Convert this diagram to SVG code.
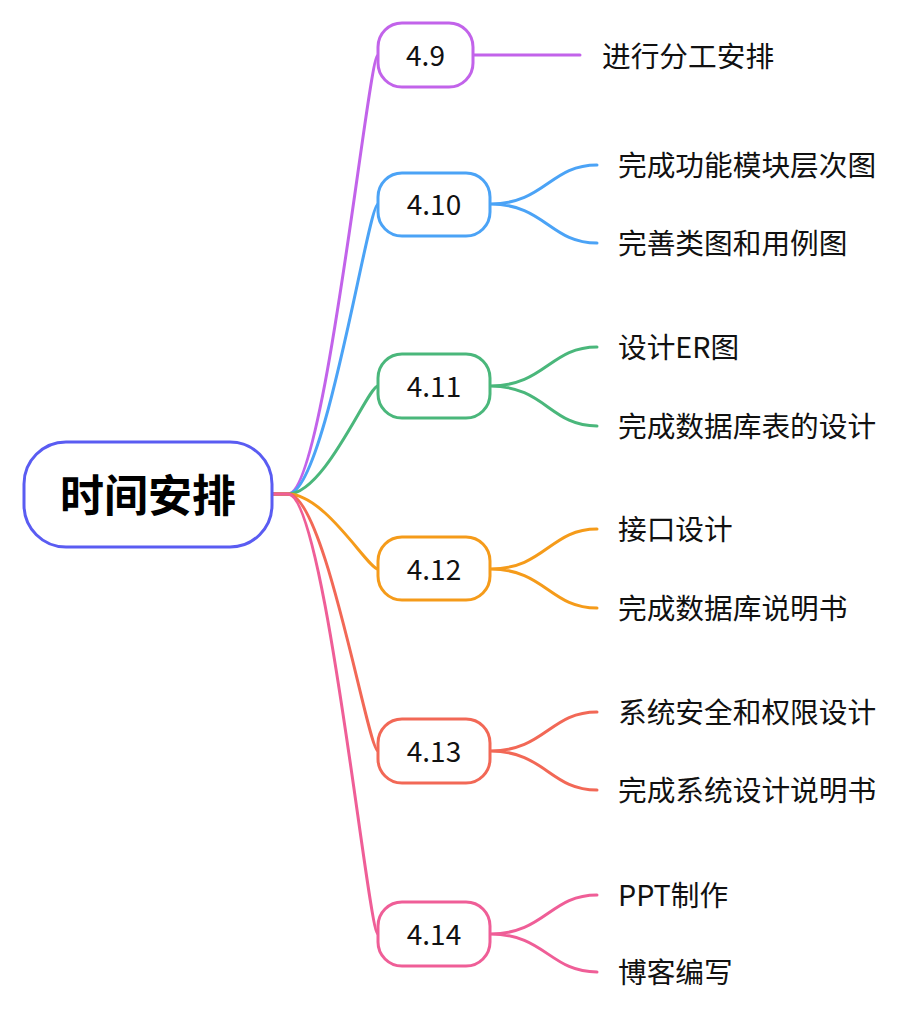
<svg xmlns="http://www.w3.org/2000/svg" width="918" height="1022" viewBox="0 0 918 1022">
<style>
.c{fill:none;stroke-width:3;stroke-linecap:round}
.b{fill:#fff;stroke-width:3}
.t{font-family:"Noto Sans CJK SC","Noto Sans",sans-serif;font-size:28px;fill:#111;dominant-baseline:central}
.l{font-size:28.7px}
.m{text-anchor:middle}
.r{font-size:44px;font-weight:bold;fill:#000}
</style>
<g id="connectors">
<path class="c" stroke="#c263ea" d="M272 494 L288 494 C325 494 368 55 378 55"/>
<path class="c" stroke="#4ba3f6" d="M272 494 L288 494 C325 494 368 204 378 204"/>
<path class="c" stroke="#4ab77b" d="M272 494 L288 494 C325 494 368 386 378 386"/>
<path class="c" stroke="#f59b1a" d="M272 494 L288 494 C325 494 368 569 378 569"/>
<path class="c" stroke="#f26856" d="M272 494 L288 494 C325 494 368 751 378 751"/>
<path class="c" stroke="#ef5e97" d="M272 494 L288 494 C325 494 368 934 378 934"/>
<path class="c" stroke="#c263ea" d="M473 55 L580 55"/>
<path class="c" stroke="#4ba3f6" d="M490 204 C545 204 550 165 597 165 M490 204 C545 204 550 243 597 243"/>
<path class="c" stroke="#4ab77b" d="M490 386 C545 386 550 347 597 347 M490 386 C545 386 550 426 597 426"/>
<path class="c" stroke="#f59b1a" d="M490 569 C545 569 550 529 597 529 M490 569 C545 569 550 608 597 608"/>
<path class="c" stroke="#f26856" d="M490 751 C545 751 550 712 597 712 M490 751 C545 751 550 790 597 790"/>
<path class="c" stroke="#ef5e97" d="M490 934 C545 934 550 895 597 895 M490 934 C545 934 550 972 597 972"/>
</g>
<g id="root">
<rect class="b" stroke="#5a5cf2" x="24" y="442" width="248" height="105" rx="42"/>
<text class="t m r" x="148" y="493">时间安排</text>
</g>
<g id="n49">
<rect class="b" stroke="#c263ea" x="378" y="23" width="95" height="64" rx="24"/>
<text class="t m" x="425.5" y="54">4.9</text>
</g>
<g id="n410">
<rect class="b" stroke="#4ba3f6" x="378" y="173" width="112" height="63" rx="24"/>
<text class="t m" x="434" y="203">4.10</text>
</g>
<g id="n411">
<rect class="b" stroke="#4ab77b" x="378" y="354" width="112" height="64" rx="24"/>
<text class="t m" x="434" y="385">4.11</text>
</g>
<g id="n412">
<rect class="b" stroke="#f59b1a" x="378" y="537" width="112" height="63" rx="24"/>
<text class="t m" x="434" y="568">4.12</text>
</g>
<g id="n413">
<rect class="b" stroke="#f26856" x="378" y="719" width="112" height="64" rx="24"/>
<text class="t m" x="434" y="750">4.13</text>
</g>
<g id="n414">
<rect class="b" stroke="#ef5e97" x="378" y="902" width="112" height="64" rx="24"/>
<text class="t m" x="434" y="933">4.14</text>
</g>
<g id="leaves">
<text class="t l" x="602" y="54">进行分工安排</text>
<text class="t l" x="618" y="163">完成功能模块层次图</text>
<text class="t l" x="618" y="241">完善类图和用例图</text>
<text class="t l" x="618" y="345">设计ER图</text>
<text class="t l" x="618" y="424">完成数据库表的设计</text>
<text class="t l" x="618" y="527">接口设计</text>
<text class="t l" x="618" y="606">完成数据库说明书</text>
<text class="t l" x="618" y="710">系统安全和权限设计</text>
<text class="t l" x="618" y="788">完成系统设计说明书</text>
<text class="t l" x="618" y="893">PPT制作</text>
<text class="t l" x="618" y="970">博客编写</text>
</g>
</svg>
